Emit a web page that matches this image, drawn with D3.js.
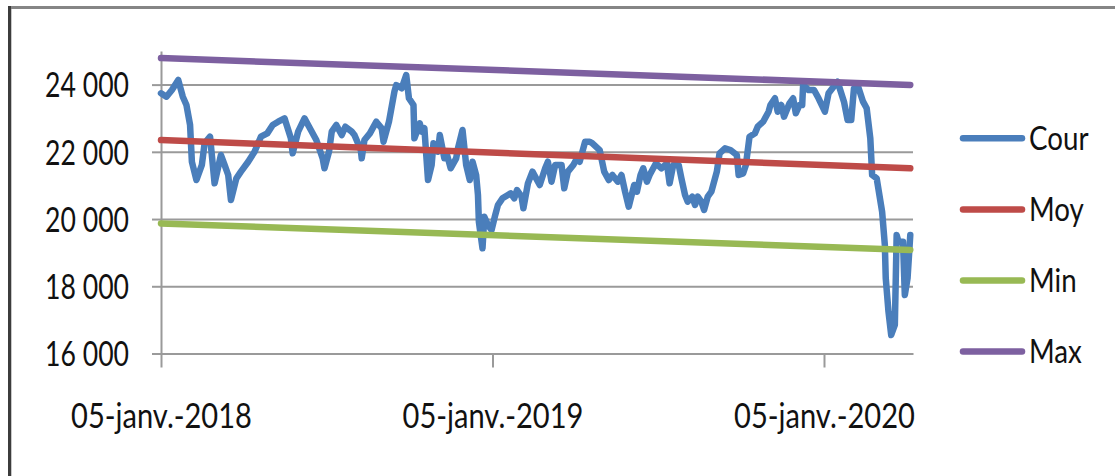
<!DOCTYPE html>
<html>
<head>
<meta charset="utf-8">
<script src="https://cdn.jsdelivr.net/npm/d3@7"></script>
<style>
  html, body { margin: 0; padding: 0; background: #fff; }
  svg { display: block; font-family: Lato, "Open Sans", sans-serif; }
</style>
</head>
<body>
<svg id="chart" width="1115" height="476"></svg>
<script>
// Daily closing level ("Cour") and the reference bands (Moy / Min / Max)
const courDates = [
  "2018-01-05","2018-01-11","2018-01-17","2018-01-24","2018-01-29","2018-02-02","2018-02-06","2018-02-08",
  "2018-02-13","2018-02-19","2018-02-22","2018-02-28","2018-03-05","2018-03-12","2018-03-16","2018-03-20",
  "2018-03-23","2018-03-29","2018-04-03","2018-04-11","2018-04-18","2018-04-25","2018-05-02","2018-05-08",
  "2018-05-14","2018-05-21","2018-05-28","2018-05-30","2018-06-05","2018-06-12","2018-06-19","2018-06-25",
  "2018-07-02","2018-07-04","2018-07-09","2018-07-12","2018-07-17","2018-07-23","2018-07-27","2018-08-03",
  "2018-08-06","2018-08-13","2018-08-14","2018-08-17","2018-08-23","2018-08-30","2018-09-05","2018-09-07",
  "2018-09-13","2018-09-19","2018-09-21","2018-09-27","2018-10-02","2018-10-05","2018-10-10","2018-10-11",
  "2018-10-17","2018-10-19","2018-10-22","2018-10-26","2018-10-30","2018-11-01","2018-11-06","2018-11-08",
  "2018-11-13","2018-11-16","2018-11-20","2018-11-26","2018-11-28","2018-12-03","2018-12-07","2018-12-11",
  "2018-12-14","2018-12-18","2018-12-20","2018-12-21","2018-12-25","2018-12-27","2018-12-31","2019-01-04",
  "2019-01-08","2019-01-11","2019-01-16","2019-01-22","2019-01-25","2019-01-29","2019-02-01","2019-02-06",
  "2019-02-08","2019-02-13","2019-02-18","2019-02-26","2019-03-04","2019-03-07","2019-03-11","2019-03-15",
  "2019-03-22","2019-03-25","2019-03-29","2019-04-04","2019-04-08","2019-04-11","2019-04-17","2019-04-22",
  "2019-04-25","2019-05-03","2019-05-08","2019-05-13","2019-05-17","2019-05-23","2019-05-27","2019-05-31",
  "2019-06-04","2019-06-10","2019-06-13","2019-06-17","2019-06-20","2019-06-24","2019-06-27","2019-07-01",
  "2019-07-04","2019-07-10","2019-07-16","2019-07-19","2019-07-23","2019-07-29","2019-08-01","2019-08-05",
  "2019-08-08","2019-08-13","2019-08-16","2019-08-19","2019-08-23","2019-08-26","2019-08-30","2019-09-03",
  "2019-09-09","2019-09-12","2019-09-18","2019-09-24","2019-10-01","2019-10-03","2019-10-08","2019-10-11",
  "2019-10-15","2019-10-21","2019-10-24","2019-10-30","2019-11-05","2019-11-07","2019-11-12","2019-11-15",
  "2019-11-19","2019-11-22","2019-11-28","2019-12-02","2019-12-05","2019-12-09","2019-12-12","2019-12-13",
  "2019-12-19","2019-12-25","2019-12-30","2020-01-06","2020-01-10","2020-01-17","2020-01-20","2020-01-27",
  "2020-01-31","2020-02-04","2020-02-07","2020-02-11","2020-02-17","2020-02-21","2020-02-25","2020-02-27",
  "2020-03-03","2020-03-09","2020-03-12","2020-03-13","2020-03-16","2020-03-19","2020-03-23","2020-03-25",
  "2020-03-27","2020-04-01","2020-04-03","2020-04-06","2020-04-09"
];
const courValues = [
  23741,23640,23840,24137,23640,23393,22800,21706,
  21162,21610,22253,22451,21063,21906,21610,21311,
  20567,21212,21410,21706,22004,22451,22550,22798,
  22896,22997,22401,21956,22600,22997,22650,22352,
  21807,21510,22004,22600,22798,22500,22748,22600,
  22500,22054,21807,22352,22550,22896,22700,22302,
  22896,23789,23988,23890,24286,23593,23393,22401,
  22848,22600,22700,21162,21610,22253,22004,22500,
  21807,21906,21510,21807,22104,22650,21610,21162,
  21706,21311,20716,19921,19130,20070,19823,19674,
  20120,20418,20617,20716,20766,20617,20864,20666,
  20320,21063,21410,21013,21510,21706,21112,21610,
  21610,20914,21410,21610,21807,21706,22302,22302,
  22253,22054,21410,21162,21311,21112,21311,20814,
  20368,21013,20814,21311,21510,21112,21311,21510,
  21658,21510,21658,21063,21610,21610,21212,20716,
  20517,20666,20418,20666,20517,20269,20666,20814,
  21410,21956,22104,22054,21906,21311,21360,21610,
  22451,22550,22748,22896,23194,23393,23593,23194,
  23393,23046,23444,23593,23146,23393,23393,23988,
  23840,23840,23593,23194,23741,23988,24087,23492,
  22947,22947,23890,23988,23492,23295,22401,21311,
  21212,20219,19228,18237,17243,16550,16848,19525,
  19326,19326,17740,18237,19525
];

const bandDates = ["2018-01-05", "2020-04-09"];
const moyValues = [22350, 21510];
const minValues = [19870, 19080];
const maxValues = [24790, 23990];

const seriesNames = ["Cour", "Moy", "Min", "Max"];
const seriesColors = ["#4a7ebb", "#be4b48", "#98b954", "#7d60a0"];

const yTicks = [16000, 18000, 20000, 22000, 24000];
const xTickDates = ["2018-01-05", "2019-01-05", "2020-01-05"];
const xTickLabels = ["05-janv.-2018", "05-janv.-2019", "05-janv.-2020"];

// ---------------------------------------------------------------
const parse = d3.utcParse("%Y-%m-%d");
const svg = d3.select("#chart");

const plot = { left: 161, right: 913, top: 51, bottom: 353.5 };
const x = d3.scaleUtc()
  .domain([parse("2018-01-05"), parse("2020-04-12")])
  .range([plot.left, plot.right]);
const y = d3.scaleLinear()
  .domain([16000, 25000])
  .range([plot.bottom, plot.top]);

const fmt = d => d3.format(",")(d).replace(",", "\u00a0");
const labelFont = "Lato, 'Open Sans', sans-serif";

// outer frame
svg.append("rect").attr("width", 1115).attr("height", 476).attr("fill", "#fff");
svg.append("line").attr("x1", 8).attr("x2", 1115).attr("y1", 7.5).attr("y2", 7.5)
  .attr("stroke", "#858585").attr("stroke-width", 3);
svg.append("line").attr("x1", 9.5).attr("x2", 9.5).attr("y1", 6).attr("y2", 476)
  .attr("stroke", "#3c3c3c").attr("stroke-width", 3);
svg.append("line").attr("x1", 11.5).attr("x2", 11.5).attr("y1", 9).attr("y2", 476)
  .attr("stroke", "#c8c8c8").attr("stroke-width", 1);

// horizontal gridlines
svg.append("g")
  .attr("transform", `translate(${plot.left},0)`)
  .call(d3.axisLeft(y).tickValues(yTicks).tickSize(-(plot.right - plot.left)).tickFormat(""))
  .call(g => g.select(".domain").remove())
  .call(g => g.selectAll(".tick line").attr("stroke", "#9a9a9a").attr("stroke-width", 2));

// y axis
svg.append("g")
  .attr("transform", `translate(${plot.left},0)`)
  .call(d3.axisLeft(y).tickValues(yTicks).tickSize(9).tickSizeOuter(0).tickFormat(fmt))
  .call(g => g.select(".domain").attr("stroke", "#9a9a9a").attr("stroke-width", 2))
  .call(g => g.selectAll(".tick line").attr("stroke", "#9a9a9a").attr("stroke-width", 2))
  .call(g => g.selectAll(".tick text")
    .attr("x", null).attr("dy", "0.35em")
    .attr("transform", "translate(-32,0) scale(0.76,1)")
    .attr("text-anchor", "end")
    .attr("fill", "#111")
    .style("font-size", "35px")
    .style("font-family", labelFont));

// x axis
svg.append("g")
  .attr("transform", `translate(0,${plot.bottom})`)
  .call(d3.axisBottom(x).tickValues(xTickDates.map(parse)).tickSize(14).tickSizeOuter(0)
    .tickFormat((d, i) => xTickLabels[i]))
  .call(g => g.select(".domain").attr("stroke", "#9a9a9a").attr("stroke-width", 2))
  .call(g => g.selectAll(".tick line").attr("stroke", "#9a9a9a").attr("stroke-width", 2))
  .call(g => g.selectAll(".tick text")
    .attr("y", null).attr("dy", null)
    .attr("transform", "translate(0,74) scale(0.83,1)")
    .attr("text-anchor", "middle")
    .attr("fill", "#111")
    .style("font-size", "35px")
    .style("font-family", labelFont));

// series
const line = d3.line().x(d => x(d.date)).y(d => y(d.value));
const toPoints = (dates, values) => dates.map((d, i) => ({ date: parse(d), value: values[i] }));
const seriesData = [
  toPoints(courDates, courValues),
  toPoints(bandDates, moyValues),
  toPoints(bandDates, minValues),
  toPoints(bandDates, maxValues)
];

svg.append("g").selectAll("path")
  .data(seriesData)
  .join("path")
  .attr("d", line)
  .attr("fill", "none")
  .attr("stroke", (d, i) => seriesColors[i])
  .attr("stroke-width", 6.5)
  .attr("stroke-linejoin", "round")
  .attr("stroke-linecap", "round");

// legend
const legend = svg.append("g").attr("transform", "translate(960,138.3)");
const item = legend.selectAll("g")
  .data(seriesNames)
  .join("g")
  .attr("transform", (d, i) => `translate(0,${i * 71.1})`);
item.append("line")
  .attr("x1", 3).attr("x2", 62).attr("y1", 0).attr("y2", 0)
  .attr("stroke", (d, i) => seriesColors[i])
  .attr("stroke-width", 6.5)
  .attr("stroke-linecap", "round");
item.append("text")
  .attr("transform", "translate(69,0) scale(0.84,1)")
  .attr("dy", "0.35em")
  .attr("fill", "#111")
  .style("font-size", "33px")
  .style("font-family", labelFont)
  .text(d => d);
</script>
</body>
</html>
